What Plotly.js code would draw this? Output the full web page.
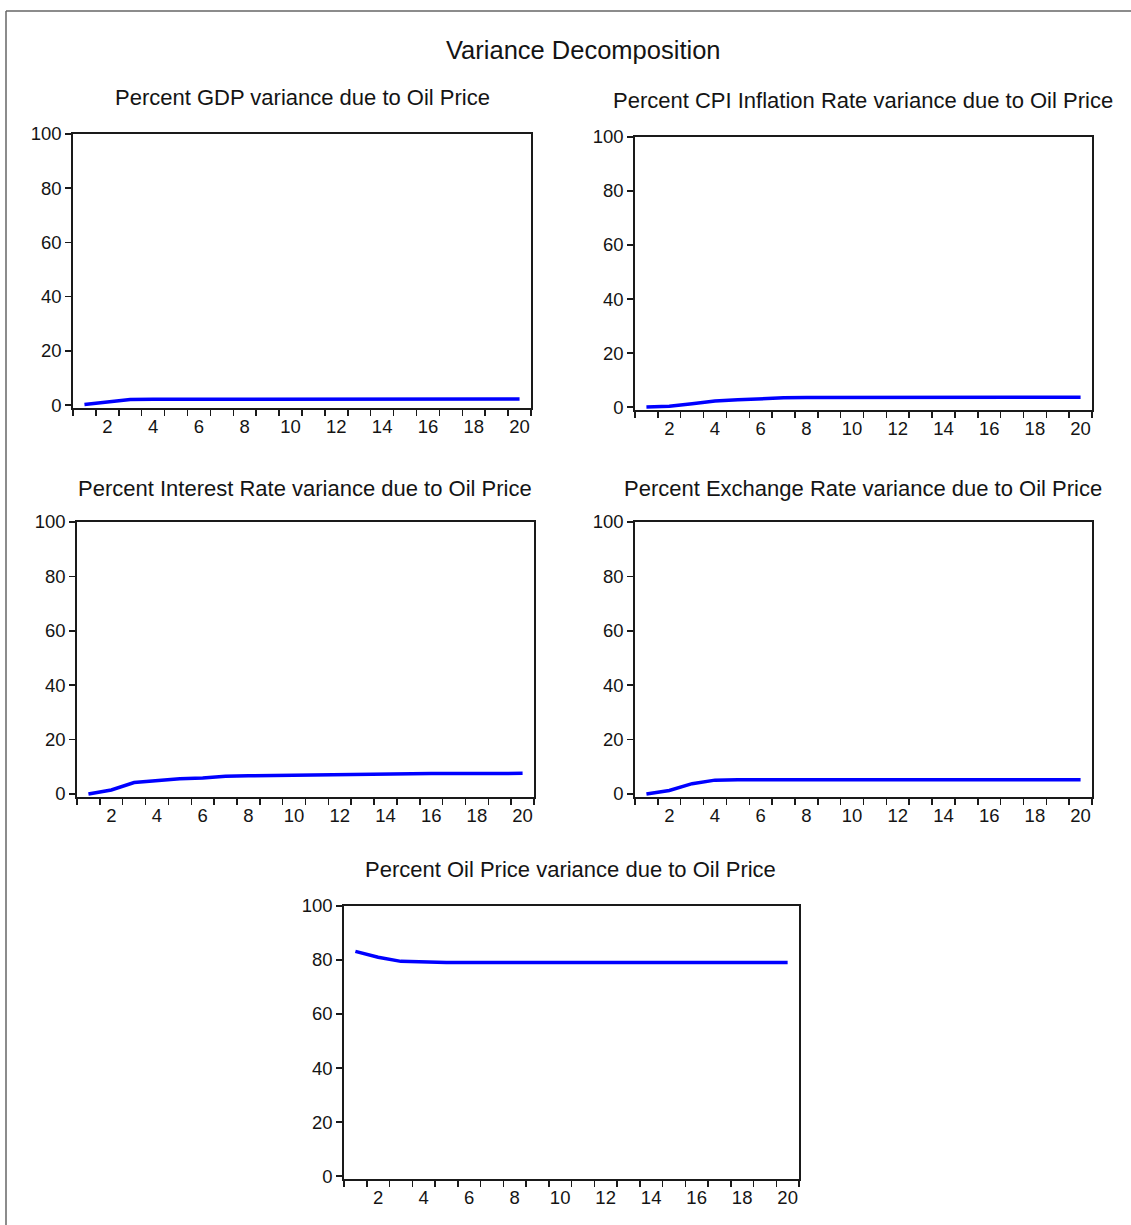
<!DOCTYPE html>
<html>
<head>
<meta charset="utf-8">
<script src="https://cdn.plot.ly/plotly-3.0.1.min.js"></script>
<style>html,body{margin:0;padding:0;background:#fff;}#chart{width:1131px;height:1225px;}</style>
</head>
<body>
<div id="chart"></div>
<script>
const periods = [1,2,3,4,5,6,7,8,9,10,11,12,13,14,15,16,17,18,19,20];
const gdpShare      = [0.2,1.2,2.0,2.1,2.1,2.1,2.2,2.2,2.2,2.2,2.2,2.2,2.2,2.2,2.2,2.2,2.2,2.2,2.2,2.2];
const cpiShare      = [0.0,0.3,1.2,2.2,2.7,3.2,3.4,3.5,3.5,3.5,3.6,3.6,3.6,3.6,3.6,3.6,3.6,3.6,3.6,3.6];
const interestShare = [0.0,1.5,4.2,5.0,5.6,5.9,6.5,6.7,6.8,6.9,7.3,7.4,7.4,7.5,7.5,7.5,7.5,7.5,7.6,7.6];
const exchangeShare = [0.0,1.3,3.8,5.1,5.2,5.2,5.2,5.2,5.2,5.2,5.2,5.2,5.2,5.2,5.2,5.2,5.2,5.2,5.2,5.2];
const oilShare      = [83.2,81.0,79.5,79.2,79.1,79.1,79.1,79.1,79.1,79.1,79.1,79.1,79.1,79.1,79.1,79.1,79.1,79.1,79.1,79.1];
const xTickVals = [2,4,6,8,10,12,14,16,18,20];
const yTickVals = [0,20,40,60,80,100];
const mainTitle = "Variance Decomposition";
const panelTitles = [
  "Percent GDP variance due to Oil Price",
  "Percent CPI Inflation Rate variance due to Oil Price",
  "Percent Interest Rate variance due to Oil Price",
  "Percent Exchange Rate variance due to Oil Price",
  "Percent Oil Price variance due to Oil Price"
];
const seriesList = [gdpShare, cpiShare, interestShare, exchangeShare, oilShare];

const W = 1131, H = 1225;
// pixel boxes [left, right, top, bottom]
const boxes = [
  [73, 531, 134, 408],
  [635, 1092, 137, 410],
  [77, 534, 522, 797],
  [635, 1092, 522, 797],
  [344, 799, 906, 1179]
];
const titlePos = [[302, 97], [863, 101], [305, 488], [863, 488], [570, 869]];

const FONT = "Liberation Sans, Arial, sans-serif";
const textColor = "#141414";

const data = [];
const layout = {
  width: W, height: H,
  margin: {l: 0, r: 0, t: 0, b: 0},
  paper_bgcolor: "#fff", plot_bgcolor: "#fff",
  showlegend: false,
  font: {family: FONT, color: textColor},
  annotations: [],
  shapes: [
    {type: "line", xref: "paper", yref: "paper", x0: 6/W, x1: 1, y0: 1-11/H, y1: 1-11/H, line: {color: "#666", width: 1.5}},
    {type: "line", xref: "paper", yref: "paper", x0: 6/W, x1: 6/W, y0: 1-11/H, y1: 0, line: {color: "#666", width: 1.5}}
  ]
};

layout.annotations.push({
  text: mainTitle, xref: "paper", yref: "paper", x: 583/W, y: 1-50/H,
  xanchor: "center", yanchor: "middle", showarrow: false,
  font: {family: FONT, size: 25.5, color: textColor}
});

seriesList.forEach((vals, i) => {
  const n = i + 1;
  const xa = n === 1 ? "xaxis" : "xaxis" + n;
  const ya = n === 1 ? "yaxis" : "yaxis" + n;
  const b = boxes[i];
  data.push({
    x: periods, y: vals, type: "scatter", mode: "lines",
    xaxis: "x" + (n === 1 ? "" : n), yaxis: "y" + (n === 1 ? "" : n),
    line: {color: "#0000ff", width: 3.5}, hoverinfo: "skip"
  });
  layout[xa] = {
    domain: [b[0]/W, b[1]/W],
    anchor: "y" + (n === 1 ? "" : n),
    range: [0.5, 20.5], fixedrange: true,
    tickmode: "array", tickvals: xTickVals, ticktext: xTickVals.map(String),
    ticks: "outside", ticklen: 0.5, tickcolor: "rgba(0,0,0,0)",
    tickfont: {family: FONT, size: 18.5, color: textColor},
    minor: {tickmode: "linear", tick0: 0.5, dtick: 1, ticks: "outside", ticklen: 6, tickwidth: 1.5, tickcolor: "#1a1a1a", showgrid: false},
    showgrid: false, zeroline: false,
    showline: true, mirror: true, linecolor: "#1a1a1a", linewidth: 1.8
  };
  layout[ya] = {
    domain: [1 - b[3]/H, 1 - b[2]/H],
    anchor: "x" + (n === 1 ? "" : n),
    range: [-1.1, 100], fixedrange: true,
    tickmode: "array", tickvals: yTickVals,
    ticks: "outside", ticklen: 6, tickwidth: 1.5, tickcolor: "#1a1a1a",
    tickfont: {family: FONT, size: 18.5, color: textColor},
    showgrid: false, zeroline: false,
    showline: true, mirror: true, linecolor: "#1a1a1a", linewidth: 1.8
  };
  layout.annotations.push({
    text: panelTitles[i], xref: "paper", yref: "paper",
    x: titlePos[i][0]/W, y: 1 - titlePos[i][1]/H,
    xanchor: "center", yanchor: "middle", showarrow: false,
    font: {family: FONT, size: 22, color: textColor}
  });
});

Plotly.newPlot("chart", data, layout, {displayModeBar: false, staticPlot: true});
</script>
</body>
</html>
